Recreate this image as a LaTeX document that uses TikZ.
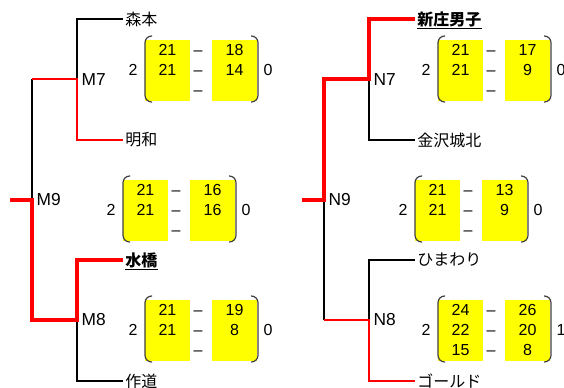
\documentclass[tikz,border=0pt]{standalone}
\usepackage{fontspec}
\setmainfont{Liberation Sans}
\newfontfamily\jpfont{Noto Sans CJK JP}
\usepackage{tikz}
\usetikzlibrary{calc}
\usepackage{xcolor}
\definecolor{myRed}{rgb}{1,0,0}
\definecolor{myYellow}{rgb}{1,1,0}
\definecolor{myGray}{rgb}{0.25,0.25,0.25}
\tikzset{
  team/.style={anchor=west, inner xsep=2pt, inner ysep=1pt, font=\jpfont\fontsize{12}{14}\selectfont},
  matchlbl/.style={anchor=west, inner sep=1pt, font=\fontsize{13}{15}\selectfont},
  pts/.style={inner sep=0pt, text height=8.6pt, text depth=0pt, font=\fontsize{12}{14}\selectfont},
  loser line/.style={black, line width=0.9pt},
  win line/.style={myRed, line width=1.6pt},
  final line/.style={myRed, line width=3.2pt},
  scorebracket/.style={draw=myGray, line width=0.9pt, rounded corners=5pt},
}
% #1 top left corner of the first yellow box, #2 #3 games, #4-#9 points
\newcommand{\scoreset}[9]{%
  \fill[myYellow] (#1) rectangle ($(#1)+(45,61)$);
  \fill[myYellow] ($(#1)+(67,0)$) rectangle ($(#1)+(112,61)$);
  \draw[scorebracket] ($(#1)+(7,-4)$) -- ($(#1)+(0,-4)$) -- ($(#1)+(0,62)$) -- ($(#1)+(7,62)$);
  \draw[scorebracket] ($(#1)+(106,-4)$) -- ($(#1)+(113,-4)$) -- ($(#1)+(113,62)$) -- ($(#1)+(106,62)$);
  \node[pts] (#1-w) at ($(#1)+(-12,30)$) {#2};
  \node[pts] (#1-l) at ($(#1)+(123,30)$) {#3};
  \node[pts] (#1-a1) at ($(#1)+(22.5,10)$) {#4};
  \node[pts] (#1-b1) at ($(#1)+(89.5,10)$) {#5};
  \node[pts] (#1-a2) at ($(#1)+(22.5,30)$) {#6};
  \node[pts] (#1-b2) at ($(#1)+(89.5,30)$) {#7};
  \node[pts] (#1-a3) at ($(#1)+(22.5,50)$) {#8};
  \node[pts] (#1-b3) at ($(#1)+(89.5,50)$) {#9};
  \node[pts] (#1-d1) at ($(#1)+(53,10)$) {\textendash};
  \node[pts] (#1-d2) at ($(#1)+(53,30)$) {\textendash};
  \node[pts] (#1-d3) at ($(#1)+(53,50)$) {\textendash};
}

\begin{document}
\begin{tikzpicture}[x=0.75pt,y=-0.75pt]
\useasboundingbox (0,0) rectangle (564,387);

%%%%%%%%%%%%%%%%%%%%%%%%%%%%%%%%%%%%%%%%%%%%%%%%%%%%%%%%%%%%%% Setup
\coordinate (M7j) at (77,79);
\coordinate (M9j) at (32,200);
\coordinate (M8j) at (77,320);
\coordinate (Mend) at (10,200);
\coordinate (N7j) at (369,79);
\coordinate (N9j) at (324,200);
\coordinate (N8j) at (369,320);
\coordinate (Nend) at (302,200);

\coordinate (S7) at (145,40);
\coordinate (S9) at (123,180);
\coordinate (S8) at (145,300);
\coordinate (T7) at (438,40);
\coordinate (T9) at (415,180);
\coordinate (T8) at (438,300);

%%%%%%%%%%%%%%%%%%%%%%%%%%%%%%%%%%%%%%%%%%%%%%%%%%%%%%%%%%%%%% Teams
\node[team] (morimoto) at (122.5,19) {森本};
\node[team] (meiwa) at (122.5,140) {明和};
\node[team] (mizuhashi) at (122.5,260) {\bfseries 水橋};
\node[team] (sakumichi) at (122.5,381) {作道};

\node[team] (shinjo) at (414.5,19) {\bfseries 新庄男子};
\node[team] (kanazawa) at (414.5,140) {金沢城北};
\node[team] (himawari) at (414.5,260) {ひまわり};
\node[team] (gold) at (414.5,381) {ゴールド};

% winners are underlined
\draw[line width=1pt] ([xshift=2pt]mizuhashi.south west) -- ([xshift=-2pt]mizuhashi.south east);
\draw[line width=1pt] ([xshift=2pt]shinjo.south west) -- ([xshift=-2pt]shinjo.south east);

%%%%%%%%%%%%%%%%%%%%%%%%%%%%%%%%%%%%%%%%%%%%%%%%%%%%%%%%%%%%%% Block M
\draw[loser line] (morimoto.west) -| (M7j);
\draw[loser line] (M7j -| M9j) -- (M9j);
\draw[loser line] (sakumichi.west) -| (M8j);
\draw[win line] (meiwa.west) -| (M7j) -- (M7j -| M9j);
\draw[final line] (mizuhashi.west) -| (M8j) -| (M9j) -- (Mend);

\node[matchlbl] (M7) at (80,79.5) {M7};
\node[matchlbl] (M9) at (35,200) {M9};
\node[matchlbl] (M8) at (80,320) {M8};

%%%%%%%%%%%%%%%%%%%%%%%%%%%%%%%%%%%%%%%%%%%%%%%%%%%%%%%%%%%%%% Block N
\draw[loser line] (kanazawa.west) -| (N7j);
\draw[loser line] (himawari.west) -| (N8j);
\draw[loser line] (N8j -| N9j) -- (N9j);
\draw[win line] (gold.west) -| (N8j) -- (N8j -| N9j);
\draw[final line] (shinjo.west) -| (N7j) -| (N9j) -- (Nend);

\node[matchlbl] (N7) at (372,79.5) {N7};
\node[matchlbl] (N9) at (327,200) {N9};
\node[matchlbl] (N8) at (372,320) {N8};

%%%%%%%%%%%%%%%%%%%%%%%%%%%%%%%%%%%%%%%%%%%%%%%%%%%%%%%%%%%%%% Scores
\scoreset{S7}{2}{0}{21}{18}{21}{14}{}{}
\scoreset{S9}{2}{0}{21}{16}{21}{16}{}{}
\scoreset{S8}{2}{0}{21}{19}{21}{8}{}{}
\scoreset{T7}{2}{0}{21}{17}{21}{9}{}{}
\scoreset{T9}{2}{0}{21}{13}{21}{9}{}{}
\scoreset{T8}{2}{1}{24}{26}{22}{20}{15}{8}

\end{tikzpicture}
\end{document}
